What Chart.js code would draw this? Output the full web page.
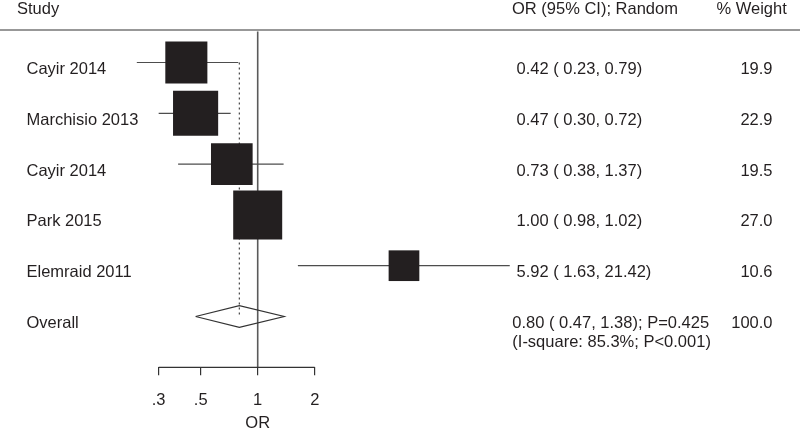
<!DOCTYPE html>
<html>
<head>
<meta charset="utf-8">
<script src="https://cdn.jsdelivr.net/npm/chart.js@4"></script>
<style>
  body { margin: 0; background: #fff; }
  #wrap { width: 800px; height: 429px; }
</style>
</head>
<body>
<div id="wrap"><canvas id="forest"></canvas></div>
<script>
// study rows
const studies = ["Cayir 2014", "Marchisio 2013", "Cayir 2014", "Park 2015", "Elemraid 2011"];
const orValues = [0.42, 0.47, 0.73, 1.00, 5.92];
const ciLower = [0.23, 0.30, 0.38, 0.98, 1.63];
const ciUpper = [0.79, 0.72, 1.37, 1.02, 21.42];
const weights = [19.9, 22.9, 19.5, 27.0, 10.6];

// pooled estimate (OR, lower, upper)
const overallOR = [0.80, 0.47, 1.38];
const overallLines = ["0.80 ( 0.47, 1.38); P=0.425", "(I-square: 85.3%; P<0.001)"];
const overallWeight = "100.0";

const tickValues = [0.3, 0.5, 1, 2];
const tickLabels = [".3", ".5", "1", "2"];

const ink = "#231f20";
const lineGray = "#4d4d4d";
const font = "Liberation Sans, Arial, sans-serif";
const fontSize = 16.5;

const overallRow = studies.length;
const axisRow = overallRow + 1;
const diamondHalf = 0.213;

// CI segments, one dataset per study
const ciSets = studies.map((s, i) => ({
  data: [{ x: ciLower[i], y: i }, { x: ciUpper[i], y: i }],
  showLine: true,
  borderColor: lineGray,
  borderWidth: 1.2,
  pointRadius: 0,
  clip: false,
  order: 1
}));

const orText = i => `${orValues[i].toFixed(2)} ( ${ciLower[i].toFixed(2)}, ${ciUpper[i].toFixed(2)})`;

const textPlugin = {
  id: "forestText",
  afterDraw(chart) {
    const ctx = chart.ctx;
    const x = chart.scales.x;
    const y = chart.scales.y;
    ctx.save();
    ctx.fillStyle = ink;
    ctx.font = `${fontSize}px ${font}`;
    ctx.textBaseline = "alphabetic";

    // header
    ctx.textAlign = "left";
    ctx.fillText("Study", 17, 13.5);
    ctx.fillText("OR (95% CI); Random", 512, 13.5);
    ctx.fillText("% Weight", 716.5, 13.5);
    ctx.strokeStyle = "#333";
    ctx.lineWidth = 1.2;
    ctx.beginPath();
    ctx.moveTo(0, 30);
    ctx.lineTo(800, 30);
    ctx.stroke();

    studies.forEach((s, i) => {
      const base = y.getPixelForValue(i) + 11.5;
      ctx.textAlign = "left";
      ctx.fillText(s, 26.5, base);
      ctx.fillText(orText(i), 516.5, base);
      ctx.textAlign = "right";
      ctx.fillText(weights[i].toFixed(1), 772.5, base);
    });

    const ob = y.getPixelForValue(overallRow) + 11.5;
    ctx.textAlign = "left";
    ctx.fillText("Overall", 26.5, ob);
    ctx.fillText(overallLines[0], 512.3, ob);
    ctx.fillText(overallLines[1], 512.3, ob + 19);
    ctx.textAlign = "right";
    ctx.fillText(overallWeight, 772.5, ob);

    // axis title under the null line
    ctx.textAlign = "center";
    ctx.fillText("OR", x.getPixelForValue(1), 427.5);
    ctx.restore();
  }
};

new Chart(document.getElementById("forest"), {
  type: "scatter",
  data: {
    datasets: [
      {
        // study boxes, area ~ weight
        data: orValues.map((v, i) => ({ x: v, y: i })),
        pointStyle: "rect",
        pointRadius: weights.map(w => 9.43 * Math.sqrt(w) / Math.SQRT2),
        backgroundColor: ink,
        borderWidth: 0,
        clip: false,
        order: 0
      },
      ...ciSets,
      {
        // pooled diamond
        data: [
          { x: overallOR[1], y: overallRow },
          { x: overallOR[0], y: overallRow - diamondHalf },
          { x: overallOR[2], y: overallRow },
          { x: overallOR[0], y: overallRow + diamondHalf },
          { x: overallOR[1], y: overallRow }
        ],
        showLine: true,
        borderColor: "#333",
        borderWidth: 1.2,
        pointRadius: 0,
        fill: false,
        clip: false,
        order: 1
      },
      {
        // axis line, only from first to last tick
        data: [{ x: tickValues[0], y: axisRow }, { x: tickValues[tickValues.length - 1], y: axisRow }],
        showLine: true,
        borderColor: "#333",
        borderWidth: 1.2,
        pointRadius: 0,
        clip: false,
        order: 1
      },
      {
        // null line at OR = 1
        data: [{ x: 1, y: -0.61 }, { x: 1, y: axisRow }],
        showLine: true,
        borderColor: "#5a5a5a",
        borderWidth: 1.6,
        pointRadius: 0,
        clip: false,
        order: 2
      },
      {
        // pooled estimate line
        data: [{ x: overallOR[0], y: 0 }, { x: overallOR[0], y: overallRow }],
        showLine: true,
        borderColor: "#444",
        borderWidth: 1.2,
        borderDash: [2, 3],
        pointRadius: 0,
        clip: false,
        order: 2
      }
    ]
  },
  options: {
    responsive: true,
    maintainAspectRatio: false,
    animation: false,
    events: [],
    layout: { autoPadding: false, padding: { left: 68.3, right: 163.5, top: 11.7, bottom: 0 } },
    plugins: { legend: { display: false }, tooltip: { enabled: false } },
    scales: {
      x: {
        type: "logarithmic",
        min: 0.1,
        max: 100,
        position: "bottom",
        afterBuildTicks: s => { s.ticks = tickValues.map(v => ({ value: v })); },
        afterFit: s => { s.height = 61.7; },
        grid: { drawOnChartArea: false, drawTicks: true, tickLength: 8, color: "#333", lineWidth: 1.2 },
        border: { display: false },
        ticks: {
          autoSkip: false,
          maxRotation: 0,
          padding: 15,
          color: ink,
          font: { family: font, size: fontSize },
          callback: (v, idx) => tickLabels[idx]
        }
      },
      y: {
        type: "linear",
        reverse: true,
        min: -1,
        max: axisRow,
        display: false
      }
    }
  },
  plugins: [textPlugin]
});
</script>
</body>
</html>
